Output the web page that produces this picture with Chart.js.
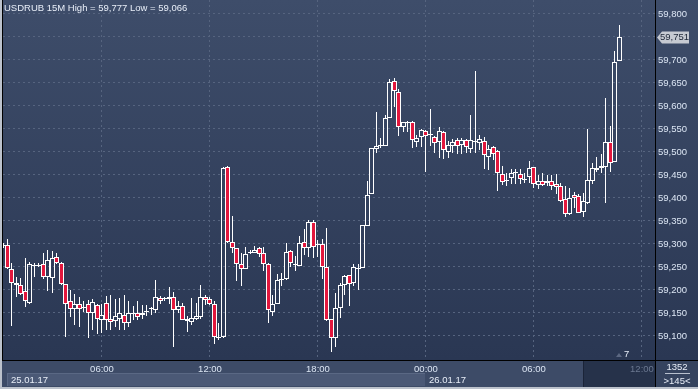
<!DOCTYPE html>
<html><head><meta charset="utf-8">
<script src="https://cdn.jsdelivr.net/npm/chart.js@4.4.1/dist/chart.umd.min.js"></script>
<style>html,body{margin:0;padding:0;background:#bcc2cc;overflow:hidden}canvas{display:block}</style>
</head><body>
<canvas id="c" width="698" height="389"></canvas>
<script>
// ---- data (USDRUB, 15-minute bars, 25.01.17 00:30 onwards) ----
const opens = [
59.296,59.298,59.245,59.216,59.211,59.198,59.172,59.254,59.254,59.256,
59.228,59.227,59.271,59.258,59.213,59.175,59.159,59.169,59.162,59.170,
59.149,59.167,59.135,59.171,59.138,59.133,59.136,59.146,59.129,59.149,
59.151,59.145,59.154,59.159,59.157,59.183,59.181,59.184,59.185,59.157,
59.166,59.138,59.131,59.136,59.141,59.185,59.180,59.170,59.097,59.097,
59.467,59.304,59.291,59.256,59.245,59.281,59.281,59.291,59.280,59.256,
59.153,59.169,59.223,59.224,59.285,59.256,59.253,59.304,59.291,59.348,
59.298,59.299,59.251,59.136,59.095,59.161,59.211,59.233,59.215,59.247,
59.247,59.340,59.409,59.506,59.515,59.513,59.574,59.654,59.630,59.555,
59.565,59.565,59.522,59.532,59.546,59.537,59.532,59.522,59.544,59.499,
59.513,59.526,59.515,59.526,59.506,59.522,59.519,59.524,59.490,59.510,
59.502,59.452,59.439,59.443,59.455,59.452,59.441,59.446,59.467,59.428,
59.438,59.432,59.438,59.430,59.426,59.397,59.365,59.406,59.404,59.370,
59.390,59.438,59.463,59.466,59.468,59.521,59.479,59.697];
const highs = [
59.302,59.310,59.258,59.229,59.225,59.269,59.260,59.259,59.258,59.281,
59.287,59.285,59.281,59.261,59.214,59.200,59.191,59.185,59.176,59.178,
59.180,59.170,59.170,59.188,59.189,59.181,59.182,59.189,59.175,59.165,
59.177,59.167,59.167,59.162,59.222,59.187,59.185,59.207,59.196,59.177,
59.172,59.143,59.182,59.172,59.211,59.189,59.185,59.175,59.129,59.467,
59.470,59.361,59.291,59.280,59.293,59.288,59.296,59.294,59.294,59.258,
59.189,59.235,59.238,59.302,59.287,59.274,59.317,59.333,59.352,59.352,
59.309,59.310,59.334,59.136,59.193,59.215,59.233,59.233,59.256,59.256,
59.342,59.437,59.509,59.588,59.530,59.580,59.658,59.660,59.638,59.566,
59.567,59.567,59.537,59.549,59.548,59.593,59.535,59.555,59.546,59.524,
59.528,59.530,59.531,59.528,59.580,59.676,59.537,59.533,59.515,59.513,
59.504,59.470,59.455,59.462,59.462,59.462,59.454,59.480,59.467,59.450,
59.454,59.450,59.450,59.452,59.432,59.425,59.421,59.414,59.409,59.410,
59.550,59.475,59.490,59.495,59.617,59.556,59.720,59.777];
const lows = [
59.291,59.245,59.122,59.185,59.189,59.164,59.170,59.229,59.249,59.223,
59.198,59.193,59.256,59.211,59.098,59.142,59.124,59.120,59.152,59.095,
59.113,59.104,59.106,59.113,59.113,59.120,59.113,59.113,59.120,59.135,
59.135,59.138,59.143,59.146,59.149,59.170,59.175,59.170,59.075,59.149,
59.135,59.109,59.124,59.135,59.138,59.167,59.167,59.082,59.091,59.096,
59.302,59.280,59.220,59.209,59.245,59.278,59.280,59.272,59.242,59.128,
59.144,59.169,59.209,59.222,59.249,59.242,59.253,59.276,59.271,59.269,
59.271,59.224,59.133,59.066,59.075,59.140,59.189,59.166,59.209,59.201,
59.247,59.340,59.408,59.498,59.508,59.513,59.574,59.598,59.535,59.544,
59.544,59.509,59.510,59.510,59.457,59.513,59.497,59.488,59.485,59.488,
59.498,59.496,59.496,59.497,59.497,59.498,59.504,59.462,59.461,59.483,
59.416,59.428,59.426,59.430,59.430,59.430,59.433,59.432,59.421,59.419,
59.425,59.425,59.417,59.409,59.392,59.359,59.364,59.379,59.367,59.359,
59.388,59.430,59.457,59.455,59.390,59.457,59.479,59.697];
const closes = [
59.296,59.247,59.215,59.211,59.191,59.176,59.256,59.254,59.254,59.229,
59.265,59.269,59.258,59.212,59.169,59.158,59.170,59.159,59.162,59.151,
59.174,59.138,59.145,59.135,59.131,59.144,59.149,59.128,59.149,59.149,
59.142,59.151,59.154,59.159,59.184,59.177,59.181,59.180,59.157,59.166,
59.135,59.133,59.140,59.143,59.185,59.178,59.170,59.098,59.097,59.465,
59.304,59.292,59.256,59.246,59.278,59.281,59.288,59.278,59.256,59.157,
59.169,59.221,59.223,59.282,59.258,59.256,59.302,59.291,59.348,59.294,
59.298,59.249,59.135,59.096,59.160,59.211,59.230,59.212,59.251,59.247,
59.341,59.406,59.508,59.513,59.515,59.573,59.653,59.633,59.555,59.565,
59.565,59.526,59.530,59.548,59.535,59.537,59.519,59.546,59.504,59.515,
59.521,59.513,59.526,59.510,59.526,59.522,59.528,59.493,59.506,59.495,
59.454,59.435,59.439,59.455,59.455,59.441,59.441,59.465,59.430,59.438,
59.428,59.437,59.427,59.423,59.393,59.365,59.401,59.399,59.367,59.393,
59.439,59.465,59.463,59.470,59.521,59.477,59.695,59.751];

const xTickIndex  = [22, 46, 70, 94, 118, 142];
const xTickLabels = ['06:00','12:00','18:00','00:00','06:00','12:00'];
const yTickValues = [59.100,59.150,59.200,59.250,59.300,59.350,59.400,59.450,59.500,59.550,59.600,59.650,59.700,59.750,59.800];
const dateLabels  = ['25.01.17','26.01.17'];
const titleText   = 'USDRUB 15M High = 59,777 Low = 59,066';
const lastPrice   = 59.751;
const barCountText = '1352';
const visibleText  = '>145<';
const markerText   = '7';

// ---- build datasets ----
const fmt = v => v.toFixed(3).replace('.', ',');
const idx = opens.map((_, i) => i);
const minBody = 0.0022;
const bodies = idx.map(i => {
  const lo = Math.min(opens[i], closes[i]), hi = Math.max(opens[i], closes[i]);
  if (hi - lo < minBody) { const m = (lo + hi) / 2; return {x: i, y: [m - minBody/2, m + minBody/2]}; }
  return {x: i, y: [lo, hi]};
});
const upperW = idx.map(i => ({x: i, y: [Math.max(opens[i], closes[i]), highs[i]]}));
const lowerW = idx.map(i => ({x: i, y: [lows[i], Math.min(opens[i], closes[i])]}));
const bodyFill = idx.map(i => closes[i] < opens[i] ? '#e2173d' : 'rgba(0,0,0,0)');

const FONT = 'Arial, "Liberation Sans", sans-serif';
Chart.defaults.font.family = FONT;

// pixel snapping of the bar elements so wicks/borders are crisp
const snap = {
  id: 'snap',
  beforeDatasetsDraw(chart) {
    chart.data.datasets.forEach((ds, d) => {
      const meta = chart.getDatasetMeta(d);
      meta.data.forEach(el => {
        el.x = Math.floor(el.x) + 0.5;
        let y = Math.round(el.y), b = Math.round(el.base);
        if (d === 2 && b - y < 1) b = y + 1;
        el.y = y; el.base = b;
      });
    });
  }
};

const deco = {
  id: 'deco',
  beforeDraw(chart) {
    const c = chart.ctx;
    c.save();
    c.fillStyle = '#bcc2cc'; c.fillRect(0, 0, 698, 389);
    const g = c.createLinearGradient(0, 0, 0, 360);
    g.addColorStop(0, '#3e4d6a'); g.addColorStop(1, '#2a3753');
    c.fillStyle = g; c.fillRect(2, 0, 696, 360);
    // bottom strip
    c.fillStyle = '#3d4b67'; c.fillRect(2, 361, 653, 26);
    c.fillStyle = '#4b5976'; c.fillRect(7, 373, 418, 13);
    c.fillStyle = '#5a6884'; c.fillRect(7, 373, 418, 1); c.fillRect(7, 373, 1, 13);
    c.fillStyle = '#26324a'; c.fillRect(584, 361, 71, 26);
    c.fillStyle = '#1b2438'; c.fillRect(583, 361, 1, 26);
    c.fillStyle = '#35435e'; c.fillRect(656, 361, 42, 26);
    c.restore();
  },
  afterDraw(chart) {
    const c = chart.ctx;
    const ys = chart.scales.y;
    c.save();
    // frame lines
    c.fillStyle = '#000000';
    c.fillRect(0, 360, 698, 1);
    c.fillRect(655, 0, 1, 389);
    c.fillRect(2, 0, 1, 360);
    c.fillStyle = '#bcc2cc';
    c.fillRect(0, 387, 698, 2);
    c.fillRect(0, 0, 2, 389);
    // title
    c.font = '9.5px ' + FONT;
    c.textBaseline = 'middle'; c.textAlign = 'left';
    c.fillStyle = '#e8eef8';
    c.fillText(titleText, 4, 8);
    // price tag
    const py = Math.round(ys.getPixelForValue(lastPrice)) + 0.5;
    c.fillStyle = '#c6cad2';
    c.beginPath();
    c.moveTo(657, py); c.lineTo(662, py - 6); c.lineTo(689, py - 6); c.lineTo(689, py + 6); c.lineTo(662, py + 6); c.closePath();
    c.fill();
    c.fillStyle = '#1c2536';
    c.fillText(fmt(lastPrice), 660, py);
    // marker
    c.fillStyle = '#5c6882';
    c.beginPath(); c.moveTo(616, 357); c.lineTo(619, 353); c.lineTo(622, 357); c.closePath(); c.fill();
    c.fillStyle = '#e8eef8';
    c.fillText(markerText, 624, 354);
    // dates
    c.fillText(dateLabels[0], 11, 380);
    c.fillText(dateLabels[1], 429, 380);
    // right-bottom box
    c.textAlign = 'center';
    c.fillText(barCountText, 677, 367);
    c.fillStyle = '#b8c0ce'; c.fillRect(665, 373, 25, 1);
    c.fillStyle = '#e8eef8';
    c.fillText(visibleText, 677, 381);
    c.restore();
  }
};

new Chart(document.getElementById('c'), {
  type: 'bar',
  data: { datasets: [
    {data: upperW, backgroundColor: '#ffffff', barThickness: 1, grouped: false, borderWidth: 0, inflateAmount: 0, order: 2},
    {data: lowerW, backgroundColor: '#ffffff', barThickness: 1, grouped: false, borderWidth: 0, inflateAmount: 0, order: 2},
    {data: bodies, backgroundColor: bodyFill, borderColor: '#ffffff', borderWidth: 1, borderSkipped: false,
     barThickness: 5, grouped: false, inflateAmount: 0, order: 1}
  ]},
  options: {
    responsive: false, animation: false, devicePixelRatio: 1,
    layout: {padding: {left: 3, top: 0, right: 0, bottom: 0}},
    plugins: {legend: {display: false}, tooltip: {enabled: false}, title: {display: false}},
    scales: {
      x: {
        type: 'linear', min: 0, max: 144.9, offset: false,
        grid: {color: '#56647f', lineWidth: 1, drawTicks: false, offset: false},
        border: {display: false, dash: [2, 3]},
        ticks: {font: {size: 9.5}, padding: 4, maxRotation: 0, autoSkip: false,
                color: c => c.index === xTickLabels.length - 1 ? '#6b7890' : '#dce6f4',
                callback: (v, i) => xTickLabels[i] ?? ''},
        afterBuildTicks: s => { s.ticks = xTickIndex.map(v => ({value: v})); },
        afterFit: s => { s.height = 29; s.paddingLeft = 0; s.paddingRight = 0; }
      },
      y: {
        position: 'right', min: 59.0478, max: 59.8304,
        grid: {color: '#56647f', lineWidth: 1, drawTicks: false},
        border: {display: false, dash: [2, 3]},
        ticks: {font: {size: 9.5}, padding: 3, color: '#dce6f4', autoSkip: false,
                callback: v => Math.abs(v - lastPrice) < 0.01 ? '' : fmt(v)},
        afterBuildTicks: s => { s.ticks = yTickValues.map(v => ({value: v})); },
        afterFit: s => { s.width = 43; s.paddingTop = 0; s.paddingBottom = 0; }
      }
    }
  },
  plugins: [deco, snap]
});
</script>
</body></html>
